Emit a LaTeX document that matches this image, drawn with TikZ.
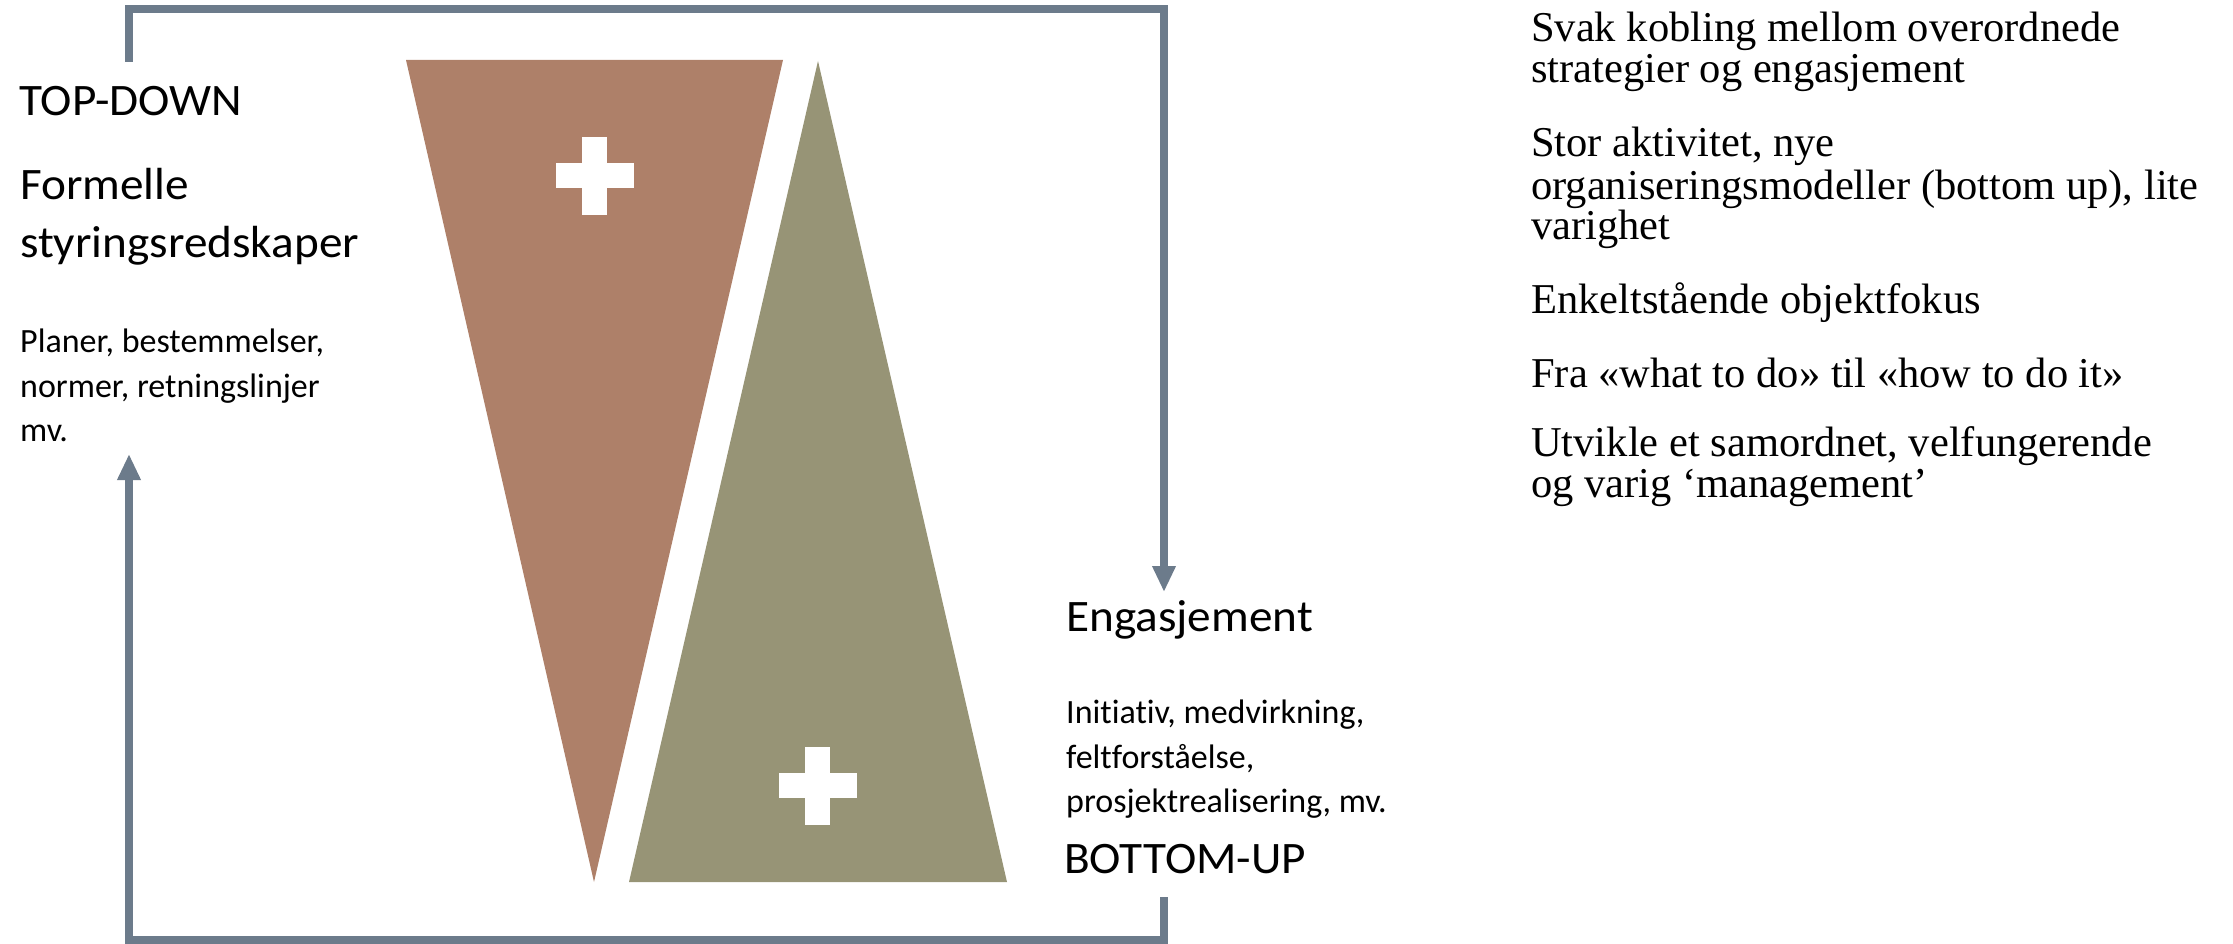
\documentclass[tikz,border=0pt]{standalone}
\usepackage{fontspec}
\setmainfont{Liberation Serif}
\newfontfamily\calfont[Ligatures=NoCommon]{Carlito}
\newfontfamily\calbig[Ligatures=NoCommon,FakeStretch=1.05]{Carlito}
\usetikzlibrary{arrows.meta}
\definecolor{linec}{HTML}{6C7B8B}
\definecolor{brownc}{HTML}{AE8069}
\definecolor{olivec}{HTML}{979476}
\begin{document}
\begin{tikzpicture}[x=1pt,y=-1pt,
  conn/.style={draw=linec, line width=7.5pt, line join=miter},
  tip/.style={-{Triangle[length=26pt,width=22pt]}},
  bigtxt/.style={font=\calbig\fontsize{45}{54}\selectfont, anchor=base west, inner sep=0pt},
  smalltxt/.style={font=\calfont\fontsize{34}{40}\selectfont, anchor=base west, inner sep=0pt},
  serif/.style={font=\fontsize{42.5}{48}\selectfont, anchor=base west, inner sep=0pt},
  plus/.style={fill=white}]
\useasboundingbox (0,0) rectangle (2233,944);
% shapes
\fill[brownc] (406,60) -- (783,60) -- (594,882) -- cycle;
\fill[olivec] (818,61) -- (1007,882) -- (629,882) -- cycle;
\fill[plus] (556,163) rectangle (634,188);
\fill[plus] (582,137) rectangle (607,215);
\fill[plus] (779,773) rectangle (857,798);
\fill[plus] (805,747) rectangle (830,825);
% connectors
\coordinate (tstart) at (129,62);
\coordinate (tcornerL) at (129,9);
\coordinate (tcornerR) at (1164,9);
\coordinate (tend) at (1164,592);
\draw[conn, tip] (tstart) -- (tcornerL) -- (tcornerR) -- (tend);
\coordinate (bstart) at (1164,897);
\coordinate (bcornerR) at (1164,940);
\coordinate (bcornerL) at (129,940);
\coordinate (bend) at (129,454);
\draw[conn, tip] (bstart) -- (bcornerR) -- (bcornerL) -- (bend);
% left text
\node[bigtxt] (td) at (19,116) {TOP-DOWN};
\node[bigtxt] (f1) at (20,200) {Formelle};
\node[bigtxt] (f2) at (20,258) {styringsredskaper};
\node[smalltxt] (p1) at (20,352) {Planer, bestemmelser,};
\node[smalltxt] (p2) at (20,397) {normer, retningslinjer};
\node[smalltxt] (p3) at (20,441) {mv.};
% middle text
\node[bigtxt] (eng) at (1066,631) {Engasjement};
\node[smalltxt] (i1) at (1066,723) {Initiativ, medvirkning,};
\node[smalltxt] (i2) at (1066,768) {feltforståelse,};
\node[smalltxt] (i3) at (1066,812) {prosjektrealisering, mv.};
\node[bigtxt] (bu) at (1064,873) {BOTTOM-UP};
% right text
\node[serif] (r1) at (1531,42) {Svak kobling mellom overordnede};
\node[serif] (r2) at (1531,83) {strategier og engasjement};
\node[serif] (r3) at (1531,157) {Stor aktivitet, nye};
\node[serif] (r4) at (1531,200) {organiseringsmodeller (bottom up), lite};
\node[serif] (r5) at (1531,240) {varighet};
\node[serif] (r6) at (1531,313) {Enkeltstående objektfokus};
\node[serif] (r7) at (1531,387) {Fra «what to do» til «how to do it»};
\node[serif] (r8) at (1531,456) {Utvikle et samordnet, velfungerende};
\node[serif] (r9) at (1531,497) {og varig ‘management’};
\end{tikzpicture}
\end{document}
